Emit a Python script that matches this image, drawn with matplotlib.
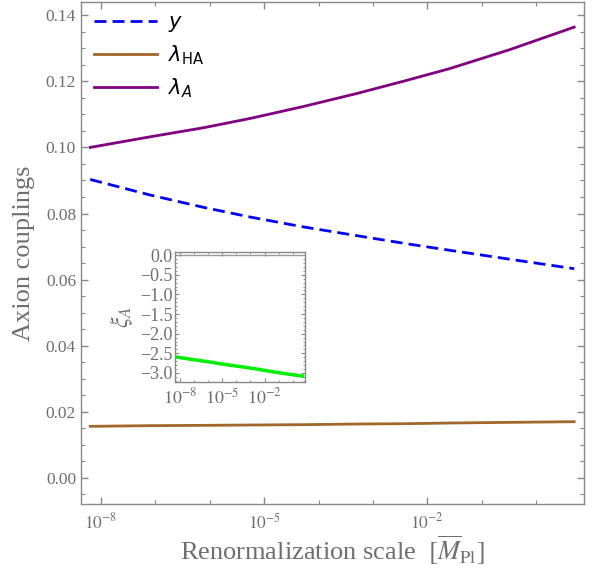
import matplotlib
matplotlib.use("Agg")
import matplotlib.pyplot as plt
from matplotlib.font_manager import FontProperties
from matplotlib.ticker import MultipleLocator, FixedLocator, NullFormatter
import numpy as np

plt.rcParams['font.family'] = ['Liberation Serif', 'DejaVu Serif']
plt.rcParams['mathtext.fontset'] = 'stix'

# values (log10 of scale)
log_mu = [-8.2, -7.1, -6.1, -5.25, -4.3, -3.3, -2.4, -1.6, -0.5, 0.7]
y_vals = [0.0903, 0.0856, 0.0818, 0.0789, 0.0760, 0.0733, 0.0709, 0.0689, 0.0662, 0.0633]
lam_A = [0.1000, 0.1032, 0.1060, 0.1088, 0.1123, 0.1163, 0.1202, 0.1238, 0.1295, 0.1364]
lam_HA = [0.0156, 0.0158, 0.0159, 0.0160, 0.0161, 0.0163, 0.0164, 0.0166, 0.0168, 0.0170]
xi_A = [-2.60, -2.66, -2.71, -2.76, -2.81, -2.86, -2.91, -2.96, -3.02, -3.08]
xi_zero = [0.0] * len(log_mu)

mu = 10.0 ** np.array(log_mu)
xlim = (10 ** -8.37, 10 ** 0.88)
xtick_pos = [1e-8, 1e-5, 1e-2]
xtick_lab = [r'$10^{-8}$', r'$10^{-5}$', r'$10^{-2}$']
decades = [10.0 ** k for k in range(-8, 1)]

gray = '#888888'
txt = '#6e6e6e'

fig = plt.figure(figsize=(5.99, 5.72), dpi=100)
ax = fig.add_axes([0.1352, 0.1189, 0.8397, 0.8776])

ax.plot(mu, y_vals, color='#0000ff', lw=2, ls=(0, (4.3, 2.2)), label=r'$y$')
ax.plot(mu, lam_HA, color='#a0662a', lw=2, label=r'$\lambda_{\mathrm{HA}}$')
ax.plot(mu, lam_A, color='#800080', lw=2, label=r'$\lambda_A$')

ax.set_xscale('log')
ax.set_xlim(*xlim)
ax.set_ylim(-0.0079, 0.144)
ax.xaxis.set_major_locator(FixedLocator(xtick_pos))
ax.set_xticklabels(xtick_lab)
ax.xaxis.set_minor_locator(FixedLocator(decades))
ax.xaxis.set_minor_formatter(NullFormatter())
ax.yaxis.set_major_locator(MultipleLocator(0.02))
ax.yaxis.set_minor_locator(MultipleLocator(0.005))
ax.yaxis.set_major_formatter(plt.FuncFormatter(lambda v, p: f'{v:.2f}'))

for s in ax.spines.values():
    s.set_color(gray)
    s.set_linewidth(1)
ax.tick_params(which='both', direction='in', top=True, right=True, color=gray,
               labelcolor=txt, labelsize=12.5)
ax.tick_params(which='major', length=5, width=1)
ax.tick_params(which='minor', length=3, width=0.8)
ax.tick_params(axis='x', pad=6)

ax.set_xlabel(r'Renormalization scale  $[\overline{M}_{\mathrm{Pl}}]$', fontsize=19, color=txt, labelpad=1)
ax.set_ylabel('Axion couplings', fontsize=19, color=txt, labelpad=8)

leg_font = FontProperties(family='DejaVu Sans', size=15, math_fontfamily='dejavusans')
ax.legend(loc='upper left', prop=leg_font, frameon=False, handlelength=3.0,
          handletextpad=0.55, labelspacing=0.45, borderaxespad=0.0,
          bbox_to_anchor=(0.01, 0.996))

# inset
ins = fig.add_axes([0.2922, 0.3322, 0.217, 0.2273])
ins.plot(mu, xi_zero, color='#999999', lw=1)
ins.plot(mu, xi_A, color='#00ee00', lw=2.5)
ins.set_xscale('log')
ins.set_xlim(*xlim)
ins.set_ylim(-3.23, 0.08)
ins.xaxis.set_major_locator(FixedLocator(xtick_pos))
ins.set_xticklabels(xtick_lab)
ins.xaxis.set_minor_locator(FixedLocator(decades))
ins.xaxis.set_minor_formatter(NullFormatter())
ins.yaxis.set_major_locator(MultipleLocator(0.5))
ins.yaxis.set_minor_locator(MultipleLocator(0.1))
ins.yaxis.set_major_formatter(plt.FuncFormatter(lambda v, p: f'{v:.1f}'.replace('-', '\u2212')))
for s in ins.spines.values():
    s.set_color(gray)
    s.set_linewidth(1)
ins.tick_params(which='both', direction='in', top=True, right=True, color=gray,
                labelcolor=txt, labelsize=13, pad=2)
ins.tick_params(axis='x', pad=4)
ins.tick_params(which='major', length=3, width=0.8)
ins.tick_params(which='minor', length=1.5, width=0.6)
ins.set_ylabel(r'$\xi_A$', fontsize=17, color=txt, labelpad=3)

fig.savefig('out.png', dpi=100)
